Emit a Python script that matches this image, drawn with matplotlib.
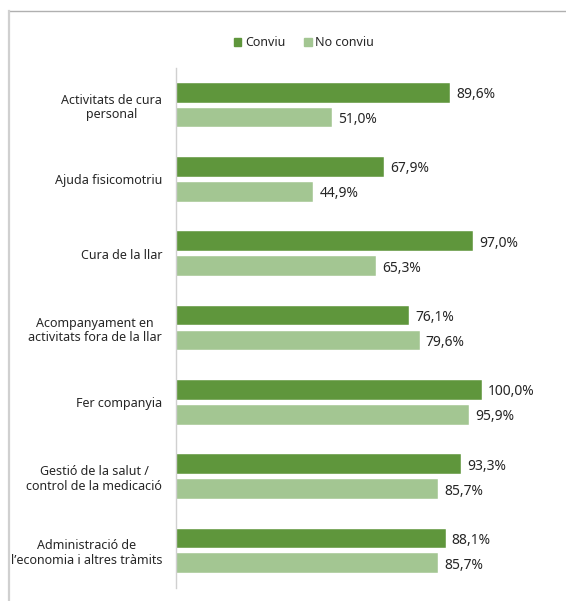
import numpy as np
import matplotlib.pyplot as plt
from matplotlib.lines import Line2D
from matplotlib.patches import Patch

categories = [
    "Activitats de cura\npersonal",
    "Ajuda fisicomotriu",
    "Cura de la llar",
    "Acompanyament en\nactivitats fora de la llar",
    "Fer companyia",
    "Gestió de la salut /\ncontrol de la medicació",
    "Administració de\nl’economia i altres tràmits",
]
conviu = [89.6, 67.9, 97.0, 76.1, 100.0, 93.3, 88.1]
no_conviu = [51.0, 44.9, 65.3, 79.6, 95.9, 85.7, 85.7]
series_names = ["Conviu", "No conviu"]

plt.rcParams["font.family"] = ["Noto Sans", "DejaVu Sans"]

c_dark = "#5f963c"
c_light = "#a3c692"
txt = "#262626"

fig = plt.figure(figsize=(5.66, 6.01), dpi=100)
ax = fig.add_axes([176 / 566, 1 - 588 / 601, 380 / 566, 520 / 601])

y = np.arange(len(categories))
h = 0.265
off = 0.168
b1 = ax.barh(y - off, conviu, height=h, color=c_dark, edgecolor="white", linewidth=0.3)
b2 = ax.barh(y + off, no_conviu, height=h, color=c_light, edgecolor="white", linewidth=0.3)

for bars, vals in ((b1, conviu), (b2, no_conviu)):
    for bar, v in zip(bars, vals):
        ax.text(v + 2.0, bar.get_y() + bar.get_height() / 2,
                f"{v:.1f}%".replace(".", ","), va="center_baseline", ha="left",
                fontsize=10, color=txt)

ax.set_xlim(0, 124.2)
ax.set_ylim(len(categories) - 0.5, -0.5)
ax.set_yticks(y)
ax.set_yticklabels(categories, fontsize=9, color=txt, multialignment="center",
                   linespacing=1.15)
ax.tick_params(axis="y", length=0, pad=10)
ax.set_xticks([])
for s in ("top", "right", "bottom"):
    ax.spines[s].set_visible(False)
ax.spines["left"].set_color("#d0d0d0")
ax.spines["left"].set_linewidth(1.0)

handles = [Patch(color=c_dark), Patch(color=c_light)]
fig.legend(handles, series_names, loc="center", bbox_to_anchor=(304 / 566, 1 - 43 / 601),
           ncol=2, frameon=False, fontsize=9, handlelength=0.6, handleheight=0.6,
           handletextpad=0.3, columnspacing=1.5, labelcolor=txt)

# outer frame: top and left edges only
fig.add_artist(Line2D([8.5 / 566, 1], [1 - 11 / 601] * 2, color="#b0b0b0", lw=1.0,
                      transform=fig.transFigure))
fig.add_artist(Line2D([8.5 / 566] * 2, [0, 1 - 11 / 601], color="#d0d0d0", lw=1.6,
                      transform=fig.transFigure))

fig.savefig("out.png", dpi=100)
